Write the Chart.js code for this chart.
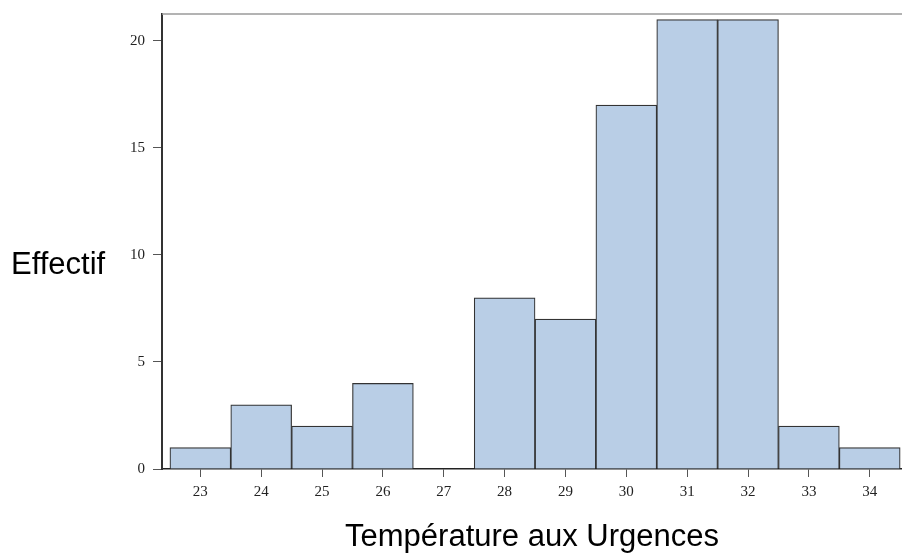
<!DOCTYPE html>
<html lang="fr">
<head>
    <meta charset="UTF-8">
    <title>Température aux Urgences</title>
    <script src="https://cdn.jsdelivr.net/npm/chart.js"></script>
    <style>
        body { margin: 0; background: #fff; }
        #wrap { width: 902px; height: 556px; }
    </style>
</head>
<body>
    <div id="wrap"><canvas id="histo"></canvas></div>

    <script>
        // Histogram data
        const temperatures = [23, 24, 25, 26, 27, 28, 29, 30, 31, 32, 33, 34];
        const effectifs = [1, 3, 2, 4, 0, 8, 7, 17, 21, 21, 2, 1];
        const yTicks = [0, 5, 10, 15, 20];

        const xTitle = 'Température aux Urgences';
        const yTitle = 'Effectif';

        // frame line on top + horizontal y title on the left
        const decor = {
            id: 'decor',
            afterDraw(chart) {
                const { ctx, chartArea } = chart;
                ctx.save();
                ctx.strokeStyle = '#9a9a9a';
                ctx.lineWidth = 1.5;
                ctx.beginPath();
                ctx.moveTo(chartArea.left, chartArea.top);
                ctx.lineTo(chartArea.right, chartArea.top);
                ctx.stroke();

                ctx.fillStyle = '#000';
                ctx.font = '31px "Liberation Sans", Arial, sans-serif';
                ctx.textBaseline = 'alphabetic';
                ctx.textAlign = 'left';
                ctx.fillText(yTitle, 11, 274);
                ctx.restore();
            }
        };

        const tickFont = { family: '"Liberation Serif", "Times New Roman", serif', size: 15 };

        new Chart(document.getElementById('histo'), {
            type: 'bar',
            data: {
                datasets: [{
                    data: temperatures.map((t, i) => ({ x: t, y: effectifs[i] })),
                    backgroundColor: '#b9cee6',
                    borderColor: '#333',
                    borderWidth: 1.2,
                    barPercentage: 1,
                    categoryPercentage: 1
                }]
            },
            options: {
                responsive: true,
                maintainAspectRatio: false,
                animation: false,
                layout: { padding: { top: 14, left: 0, right: 0, bottom: 0 } },
                plugins: {
                    legend: { display: false },
                    tooltip: { enabled: false }
                },
                scales: {
                    x: {
                        type: 'linear',
                        offset: false,
                        min: 22.37,
                        max: 34.53,
                        afterBuildTicks: scale => { scale.ticks = temperatures.map(v => ({ value: v })); },
                        afterFit: scale => { scale.height = 87; scale.paddingLeft = 0; scale.paddingRight = 0; },
                        grid: { offset: false, drawOnChartArea: false, tickLength: 8, color: '#555' },
                        border: { color: '#222', width: 1.5 },
                        ticks: { font: tickFont, color: '#222', padding: 6 },
                        title: {
                            display: true,
                            text: xTitle,
                            color: '#000',
                            font: { family: '"Liberation Sans", Arial, sans-serif', size: 31 },
                            padding: { top: 0, bottom: 0 }
                        }
                    },
                    y: {
                        min: 0,
                        max: 21.26,
                        afterBuildTicks: scale => { scale.ticks = yTicks.map(v => ({ value: v })); },
                        afterFit: scale => { scale.width = 162; scale.paddingTop = 0; scale.paddingBottom = 0; },
                        grid: { drawOnChartArea: false, tickLength: 9, color: '#555' },
                        border: { color: '#333', width: 2 },
                        ticks: { font: tickFont, color: '#222', padding: 8 }
                    }
                }
            },
            plugins: [decor]
        });
    </script>
</body>
</html>
